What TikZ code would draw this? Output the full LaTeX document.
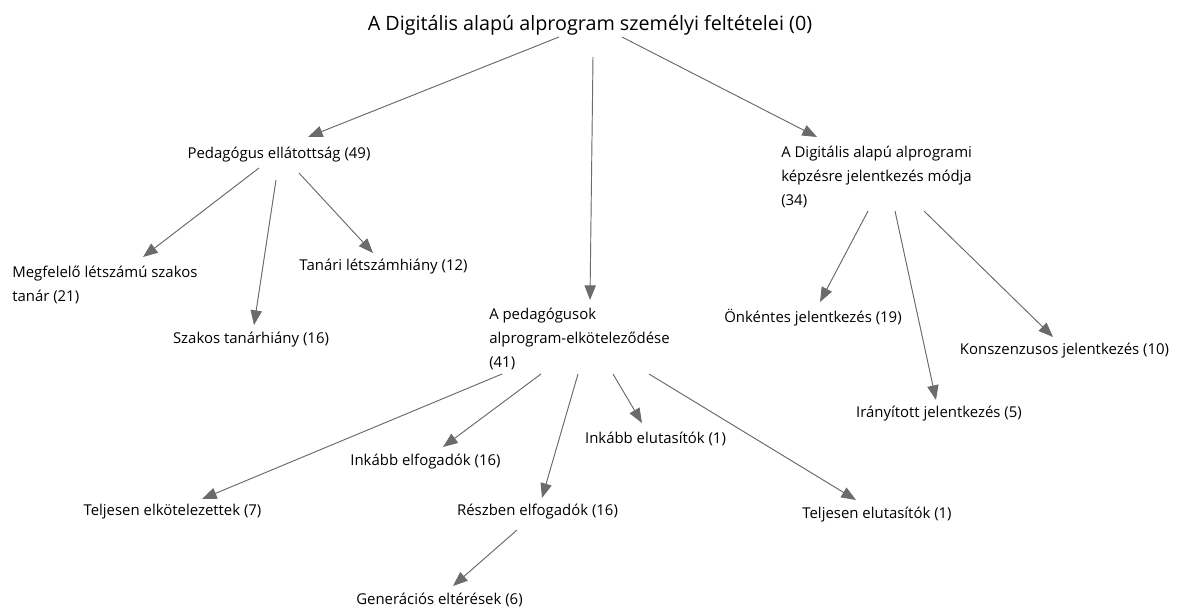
\documentclass[tikz,border=0pt]{standalone}
\usepackage{fontspec}
\setmainfont{Open Sans}
\usepackage{tikz}
\usetikzlibrary{arrows.meta}
\usetikzlibrary{calc}

\begin{document}
\begin{tikzpicture}[x=0.75pt,y=-0.75pt,
		lbl/.style={inner sep=0pt,align=left,font=\fontsize{11.2}{18}\selectfont},
		arr/.style={-{Triangle[length=11pt,width=8.5pt]},draw=black!58,fill=black!62,line width=0.7pt}]
			\useasboundingbox (0,0) rectangle (1179,607);
			
			% root
			
			\node[lbl,font=\fontsize{14.8}{18}\selectfont] (R) at (590,25) {A Digitális alapú alprogram személyi feltételei (0)};
			
			% teachers
			
			\node[lbl] (P) at (279,155) {Pedagógus ellátottság (49)};
			\node[lbl,anchor=west] (P1) at (12,284.5) {Megfelelő létszámú szakos\\tanár (21)};
			\node[lbl] (P2) at (251,340) {Szakos tanárhiány (16)};
			\node[lbl] (P3) at (383.5,267) {Tanári létszámhiány (12)};
			\draw[arr] ($(R)+(-31,12)$) -- ($(P)+(29,-18)$);
			\draw[arr] ($(P)+(-20,13)$) -- ($(P1.west)+(131,-27.5)$);
			\draw[arr] ($(P)+(-3,25)$) -- ($(P2)+(3,-15)$);
			\draw[arr] ($(P)+(20,18)$) -- ($(P3)+(-10.5,-14)$);
			
			% application
			
			\node[lbl,anchor=west] (D) at (781,177) {A Digitális alapú alprogrami\\képzésre jelentkezés módja\\(34)};
			\node[lbl] (D1) at (813,318) {Önkéntes jelentkezés (19)};
			\node[lbl] (D2) at (939,414) {Irányított jelentkezés (5)};
			\node[lbl] (D3) at (1064.5,351) {Konszenzusos jelentkezés (10)};
			\draw[arr] ($(R)+(32,12)$) -- ($(D.west)+(36,-40)$);
			\draw[arr] ($(D.west)+(87,34)$) -- ($(D1)+(7,-16)$);
			\draw[arr] ($(D.west)+(114,34)$) -- ($(D2)+(-3,-14)$);
			\draw[arr] ($(D.west)+(143,34)$) -- ($(D3)+(-11.5,-14)$);
			
			% commitment
			
			\node[lbl,anchor=west] (E) at (489,339) {A pedagógusok\\alprogram-elköteleződése\\(41)};
			\node[lbl] (E1) at (172.5,512) {Teljesen elkötelezettek (7)};
			\node[lbl] (E2) at (425.5,462) {Inkább elfogadók (16)};
			\node[lbl] (E3) at (537.5,512) {Részben elfogadók (16)};
			\node[lbl] (E4) at (655.5,439) {Inkább elutasítók (1)};
			\node[lbl] (E5) at (877,515) {Teljesen elutasítók (1)};
			\node[lbl] (G) at (439.5,600) {Generációs eltérések (6)};
			\draw[arr] ($(R)+(3,32)$) -- ($(E.west)+(101,-39)$);
			\draw[arr] ($(E.west)+(13,35)$) -- ($(E1)+(29.5,-13)$);
			\draw[arr] ($(E.west)+(52,35)$) -- ($(E2)+(17.5,-15)$);
			\draw[arr] ($(E.west)+(89,35)$) -- ($(E3)+(4.5,-14)$);
			\draw[arr] ($(E.west)+(124,35)$) -- ($(E4)+(-13.5,-16)$);
			\draw[arr] ($(E.west)+(160,35)$) -- ($(E5)+(-21,-15)$);
			\draw[arr] ($(E3)+(-20.5,18)$) -- ($(G)+(13.5,-14)$);
			
		\end{tikzpicture}
\end{document}
